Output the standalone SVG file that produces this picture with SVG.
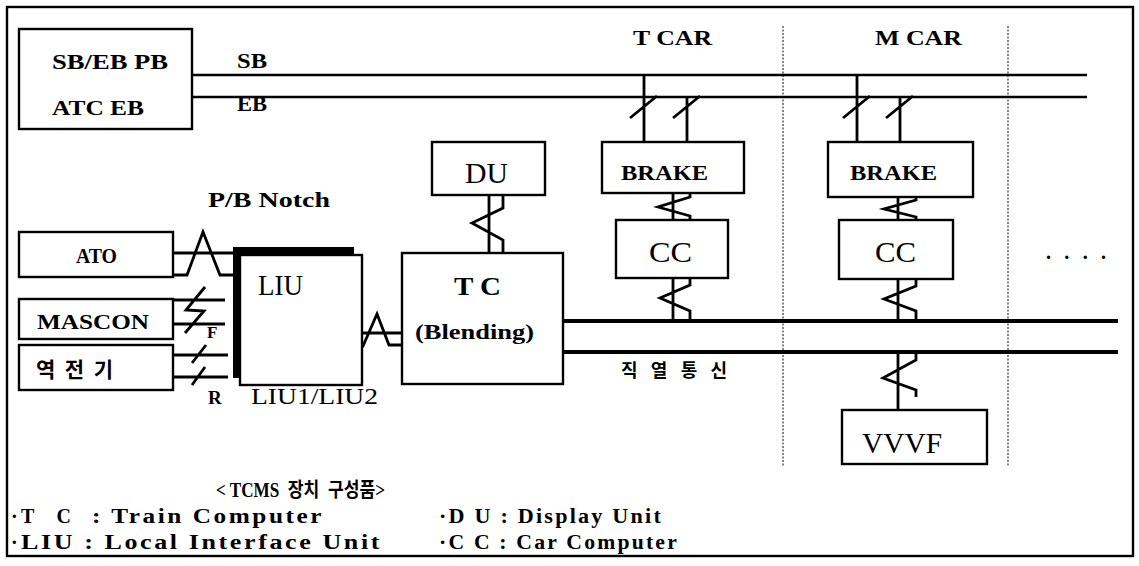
<svg xmlns="http://www.w3.org/2000/svg" width="1139" height="566" viewBox="0 0 1139 566">
<style>
.box{fill:#fff;stroke:#000;stroke-width:2.4}
.w{fill:none;stroke:#000;stroke-width:2.8;stroke-linejoin:miter}
.bus{fill:none;stroke:#000;stroke-width:2.5}
.sbus{fill:none;stroke:#000;stroke-width:4}
.dash{fill:none;stroke:#333;stroke-width:1.2;stroke-dasharray:2 1.5}
.t{font-family:"Liberation Serif","Noto Sans CJK KR","Times New Roman",serif;font-weight:bold;fill:#000}
.r{font-family:"Liberation Serif","Times New Roman",serif;font-weight:normal;fill:#000}
</style>
<rect x="0" y="0" width="1139" height="566" fill="#fff"/>
<rect x="7" y="7" width="1126" height="549" fill="none" stroke="#000" stroke-width="2.4"/>

<g id="car-dividers">
<line class="dash" x1="783" y1="26" x2="783" y2="466"/>
<line class="dash" x1="1008" y1="26" x2="1008" y2="466"/>
</g>

<g id="connectors">
<path class="bus" d="M192,75 H1087 M192,97 H1087"/>
<path class="sbus" d="M563,321 H1118 M563,352 H1118"/>
<path class="w" d="M644,75 V142 M687,97 V142 M630,118 L657,96 M673,118 L700,96"/>
<path class="w" d="M857,75 V142 M900,97 V142 M843,118 L870,96 M886,118 L913,96"/>
<path class="w" d="M173,253 H234 M173,275 H187 L203,232 L220,275 H234"/>
<path class="w" d="M173,300 H225 M173,324 H225 M205,287 L186,310 L204,311 L185,333"/>
<path class="w" d="M173,355 H228 M173,377 H228 M206,345 L192,363 M205,367 L192,385"/>
<path class="w" d="M362,333 H402 M355,346 H363 L377,314 L389,345 H402"/>
<path class="w" d="M489,195 V253 M503,195 V208 L472,223 L503,240 V253"/>
<path class="w" d="M673,193 V220 M690,193 V197 L658,207 L690,216 V220"/>
<path class="w" d="M673,278 V321 M690,278 V285 L660,298 L690,311 V321"/>
<path class="w" d="M898,197 V220 M916,197 V200 L884,209 L916,217 V220"/>
<path class="w" d="M898,279 V321 M916,279 V286 L884,299 L916,311 V321"/>
<path class="w" d="M898,352 V410 M916,352 V360 L883,378 L916,390 V397"/>
</g>

<g id="sbeb">
<rect class="box" x="19" y="29" width="173" height="100"/>
<text class="t" x="52" y="69" font-size="22" textLength="116" lengthAdjust="spacingAndGlyphs">SB/EB PB</text>
<text class="t" x="52" y="115" font-size="22" textLength="92" lengthAdjust="spacingAndGlyphs">ATC EB</text>
</g>
<g id="labels">
<text class="t" x="237" y="68" font-size="21" textLength="30" lengthAdjust="spacingAndGlyphs">SB</text>
<text class="t" x="237" y="111" font-size="21" textLength="30" lengthAdjust="spacingAndGlyphs">EB</text>
<text class="t" x="633" y="45" font-size="20" textLength="79" lengthAdjust="spacingAndGlyphs">T CAR</text>
<text class="t" x="875" y="45" font-size="20" textLength="87" lengthAdjust="spacingAndGlyphs">M CAR</text>
<text class="t" x="208" y="207" font-size="21" textLength="122" lengthAdjust="spacingAndGlyphs">P/B Notch</text>
<text class="t" x="621" y="377" font-size="18" textLength="106" lengthAdjust="spacing">직열통신</text>
<text class="t" x="1046" y="259" font-size="20" textLength="60" lengthAdjust="spacing">. . . .</text>
</g>

<g id="ato">
<rect class="box" x="19" y="232" width="154" height="45"/>
<text class="t" x="76" y="263" font-size="22" textLength="41" lengthAdjust="spacingAndGlyphs">ATO</text>
</g>
<g id="mascon">
<rect class="box" x="19" y="299" width="154" height="40"/>
<text class="t" x="37" y="329" font-size="22" textLength="112" lengthAdjust="spacingAndGlyphs">MASCON</text>
</g>
<g id="reverser">
<rect class="box" x="19" y="345" width="154" height="45"/>
<text class="t" x="36" y="377" font-size="21" textLength="77" lengthAdjust="spacing">역전기</text>
</g>
<g id="liu">
<rect class="box" x="240" y="255" width="122" height="130"/>
<rect x="233" y="247" width="121" height="7" fill="#000"/>
<rect x="233" y="247" width="8" height="131" fill="#000"/>
<text class="r" x="258" y="295" font-size="29" textLength="45" lengthAdjust="spacingAndGlyphs">LIU</text>
<text class="t" x="207" y="338" font-size="17">F</text>
<text class="t" x="208" y="404" font-size="19">R</text>
<text class="r" x="251" y="404" font-size="23" textLength="127" lengthAdjust="spacingAndGlyphs">LIU1/LIU2</text>
</g>
<g id="tc">
<rect class="box" x="402" y="253" width="161" height="131"/>
<text class="t" x="454" y="295" font-size="25" textLength="47" lengthAdjust="spacingAndGlyphs">T C</text>
<text class="t" x="415" y="339" font-size="22" textLength="119" lengthAdjust="spacingAndGlyphs">(Blending)</text>
</g>
<g id="du">
<rect class="box" x="432" y="142" width="113" height="53"/>
<text class="r" x="465" y="183" font-size="29" textLength="43" lengthAdjust="spacingAndGlyphs">DU</text>
</g>
<g id="tcar-brake">
<rect class="box" x="602" y="142" width="142" height="51"/>
<text class="t" x="621" y="180" font-size="22" textLength="87" lengthAdjust="spacingAndGlyphs">BRAKE</text>
</g>
<g id="tcar-cc">
<rect class="box" x="616" y="220" width="112" height="58"/>
<text class="r" x="649" y="262" font-size="29" textLength="43" lengthAdjust="spacingAndGlyphs">CC</text>
</g>
<g id="mcar-brake">
<rect class="box" x="828" y="142" width="145" height="55"/>
<text class="t" x="850" y="180" font-size="22" textLength="87" lengthAdjust="spacingAndGlyphs">BRAKE</text>
</g>
<g id="mcar-cc">
<rect class="box" x="839" y="220" width="114" height="59"/>
<text class="r" x="875" y="262" font-size="29" textLength="41" lengthAdjust="spacingAndGlyphs">CC</text>
</g>
<g id="vvvf">
<rect class="box" x="842" y="410" width="145" height="54"/>
<text class="r" x="862" y="453" font-size="30" textLength="80" lengthAdjust="spacingAndGlyphs">VVVF</text>
</g>

<g id="legend">
<text class="t" x="216" y="497" font-size="20" textLength="169" lengthAdjust="spacingAndGlyphs" xml:space="preserve">&lt; TCMS  장치  구성품&gt;</text>
<text class="t" x="11" y="523" font-size="20">·</text>
<text class="t" x="21" y="523" font-size="20" textLength="50" lengthAdjust="spacing">TC</text>
<text class="t" x="92" y="523" font-size="20" textLength="232" lengthAdjust="spacingAndGlyphs" letter-spacing="2">: Train Computer</text>
<text class="t" x="439" y="523" font-size="20" textLength="224" lengthAdjust="spacingAndGlyphs" letter-spacing="2">·D U : Display Unit</text>
<text class="t" x="11" y="549" font-size="20">·</text>
<text class="t" x="21" y="549" font-size="20" textLength="361" lengthAdjust="spacingAndGlyphs" letter-spacing="2">LIU : Local Interface Unit</text>
<text class="t" x="439" y="549" font-size="20" textLength="240" lengthAdjust="spacingAndGlyphs" letter-spacing="2">·C C : Car Computer</text>
</g>
</svg>
